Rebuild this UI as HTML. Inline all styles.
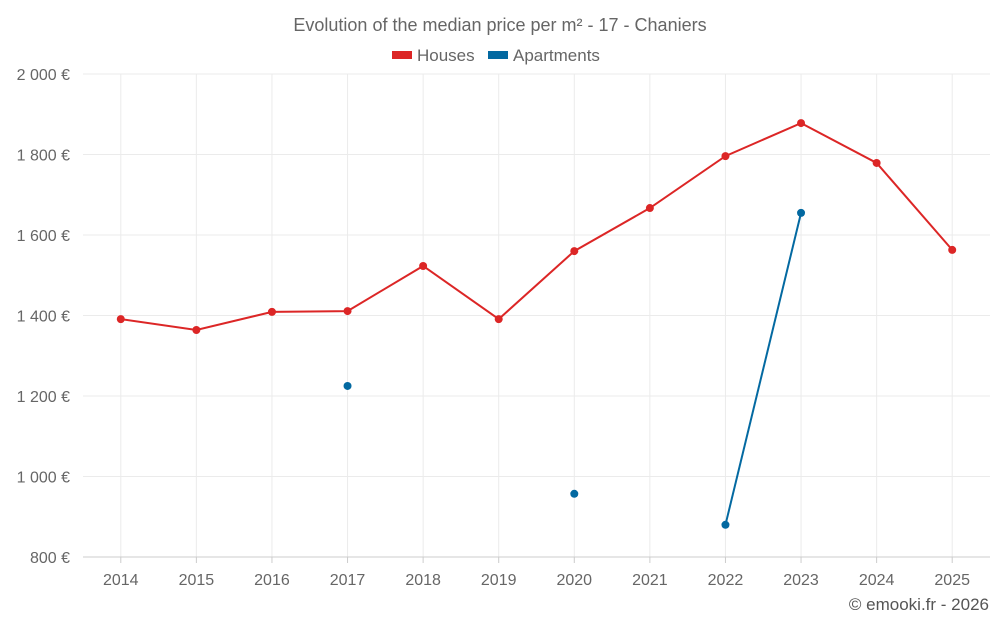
<!DOCTYPE html>
<html><head><meta charset="utf-8"><style>
body{margin:0;background:#fff;font-family:"Liberation Sans",sans-serif;}
svg text{font-family:"Liberation Sans",sans-serif;fill:#666;}
</style></head><body>
<svg id="chart" width="1000" height="625" xmlns="http://www.w3.org/2000/svg">
<text x="500" y="31" text-anchor="middle" font-size="18">Evolution of the median price per m² - 17 - Chaniers</text>
<g>
<g><rect x="392" y="51" width="20" height="8" fill="#dc2626"/><text x="417" y="61" font-size="17">Houses</text></g>
<g><rect x="488" y="51" width="20" height="8" fill="#0369a1"/><text x="513" y="61" font-size="17">Apartments</text></g>
</g>
<g id="grid"></g><g id="axes"></g><g id="series"></g>
<text x="989" y="610" text-anchor="end" font-size="17" style="fill:#555">© emooki.fr - 2026</text>
</svg>
<script>
const years=[2014,2015,2016,2017,2018,2019,2020,2021,2022,2023,2024,2025];
const houses=[1391,1364,1409,1411,1523,1391,1560,1667,1796,1878,1779,1563];
const apartments=[null,null,null,1225,null,null,957,null,880,1655,null,null];
const yTicks=[800,1000,1200,1400,1600,1800,2000];
const yTickLabels=["800 €","1 000 €","1 200 €","1 400 €","1 600 €","1 800 €","2 000 €"];
const L=83,R=990,T=74,B=557,yMin=800,yMax=2000;
const step=(R-L)/years.length;
const x=i=>L+step*(i+0.5);
const y=v=>B-(v-yMin)/(yMax-yMin)*(B-T);
const NS="http://www.w3.org/2000/svg";
function mk(tag,attrs,parent){const e=document.createElementNS(NS,tag);for(const k in attrs)e.setAttribute(k,attrs[k]);document.getElementById(parent).appendChild(e);return e;}
yTicks.forEach((t,i)=>{
 const g=mk('line',{x1:L,x2:R,y1:y(t),y2:y(t),stroke:'#ebebeb'},'grid');
 
 
 const lb=mk('text',{x:70,y:y(t)+6,'text-anchor':'end','font-size':'16'},'axes');
 lb.textContent=yTickLabels[i];
 
 
});
years.forEach((yr,i)=>{
 const g=mk('line',{x1:x(i),x2:x(i),y1:T,y2:B,stroke:'#ebebeb'},'grid');
 
 
 const tk=mk('line',{x1:x(i),x2:x(i),y1:B,y2:B+6,stroke:'#ccc'},'axes');
 
 
 const lb=mk('text',{x:x(i),y:585,'text-anchor':'middle','font-size':'16'},'axes');
 lb.textContent=yr;
 
 
});
const ax=mk('line',{x1:L,x2:R,y1:B,y2:B,stroke:'#ccc'},'axes');


function drawSeries(vals,color,name){
 let segs=[],cur=[];
 vals.forEach((v,i)=>{if(v==null){if(cur.length)segs.push(cur);cur=[];}else cur.push([x(i),y(v)]);});
 if(cur.length)segs.push(cur);
 segs.forEach(s=>{if(s.length>1){
  const p=mk('polyline',{points:s.map(q=>q.join(',')).join(' '),fill:'none',stroke:color,'stroke-width':2},'series');
  
  
 }});
 vals.forEach((v,i)=>{if(v==null)return;
  const c=mk('circle',{cx:x(i),cy:y(v),r:4,fill:color},'series');
  
  
 });
}
drawSeries(houses,'#dc2626','houses');
drawSeries(apartments,'#0369a1','apartments');
</script>
</body></html>
